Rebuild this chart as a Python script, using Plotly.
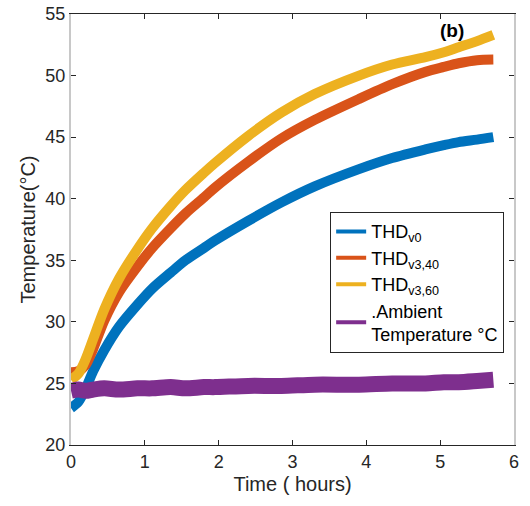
import plotly.graph_objects as go

time_h = [0, 0.1, 0.2, 0.3, 0.45, 0.65, 0.9, 1.1, 1.35, 1.55, 1.8, 1.95,
          2.4, 2.85, 3.3, 3.9, 4.35, 4.8, 5.05, 5.25, 5.5, 5.72]
thd_v0 = [23.0, 23.5, 24.6, 26.0, 27.7, 29.6, 31.4, 32.7, 34.0, 35.0, 36.0, 36.6,
          38.2, 39.7, 41.0, 42.4, 43.3, 44.0, 44.35, 44.6, 44.8, 45.0]
thd_v3_40 = [25.9, 26.0, 26.5, 27.8, 30.1, 32.4, 34.5, 36.0, 37.6, 38.8, 40.1, 40.9,
             43.0, 44.9, 46.4, 48.1, 49.3, 50.3, 50.7, 51.0, 51.25, 51.3]
thd_v3_60 = [25.3, 25.8, 27.0, 28.6, 31.0, 33.5, 35.9, 37.6, 39.4, 40.7, 42.1, 42.9,
             45.1, 47.0, 48.5, 50.0, 50.9, 51.5, 51.9, 52.3, 52.8, 53.3]
ambient = [24.4, 24.5, 24.4, 24.5, 24.6, 24.5, 24.6, 24.6, 24.7, 24.6, 24.7, 24.7,
           24.8, 24.8, 24.9, 24.9, 25.0, 25.0, 25.1, 25.1, 25.2, 25.3]

names = ["THD<sub>v0</sub>", "THD<sub>v3,40</sub>", "THD<sub>v3,60</sub>",
         ".Ambient<br>Temperature \u00b0C"]
colors = ["#0072BD", "#D95319", "#EDB120", "#7E2F8E"]
series = [thd_v0, thd_v3_40, thd_v3_60, ambient]
widths = [10, 10, 10, 16]

x_ticks = [0, 1, 2, 3, 4, 5, 6]
y_ticks = [20, 25, 30, 35, 40, 45, 50, 55]

fig = go.Figure()
for s, c, w in zip(series, colors, widths):
    fig.add_trace(go.Scatter(x=time_h, y=s, mode="lines",
                             line=dict(color=c, width=w, shape="spline", smoothing=0.8),
                             showlegend=False, hoverinfo="skip"))
for n, c in zip(names, colors):
    fig.add_trace(go.Scatter(x=[None], y=[None], mode="lines", name=n,
                             line=dict(color=c, width=4)))

font = "Liberation Sans, Arial, sans-serif"
fig.update_layout(
    width=530, height=506,
    margin=dict(l=71, r=16, t=14, b=61),
    paper_bgcolor="white", plot_bgcolor="white",
    font=dict(family=font, size=18, color="#262626"),
    showlegend=True,
    legend=dict(x=0.585, y=0.54, xanchor="left", yanchor="top",
                bgcolor="white", bordercolor="#262626", borderwidth=1,
                font=dict(size=18, color="#000000"),
                itemwidth=30, tracegroupgap=0),
    xaxis=dict(range=[0, 6], tickvals=x_ticks, ticks="inside", ticklen=5,
               tickcolor="#262626", showline=True, linecolor="#262626",
               linewidth=1, mirror="allticks", showgrid=False, zeroline=False,
               automargin=False,
               title=dict(text="Time ( hours)", font=dict(size=20), standoff=6),
               tickfont=dict(size=18)),
    yaxis=dict(range=[20, 55], tickvals=y_ticks, ticks="inside", ticklen=5,
               tickcolor="#262626", showline=True, linecolor="#c8c8c8",
               linewidth=2, mirror="allticks", showgrid=False, zeroline=False,
               automargin=False,
               title=dict(text="Temperature(\u00b0C)", font=dict(size=20), standoff=4),
               tickfont=dict(size=18)),
    annotations=[dict(text="<b>(b)</b>", x=0.86, y=0.962, xref="paper", yref="paper",
                      xanchor="center", yanchor="middle",
                      showarrow=False, font=dict(size=19, color="#000000"))],
)

fig.write_html("out.html", config={"displayModeBar": False},
               post_script="document.body.style.margin='0px';")
